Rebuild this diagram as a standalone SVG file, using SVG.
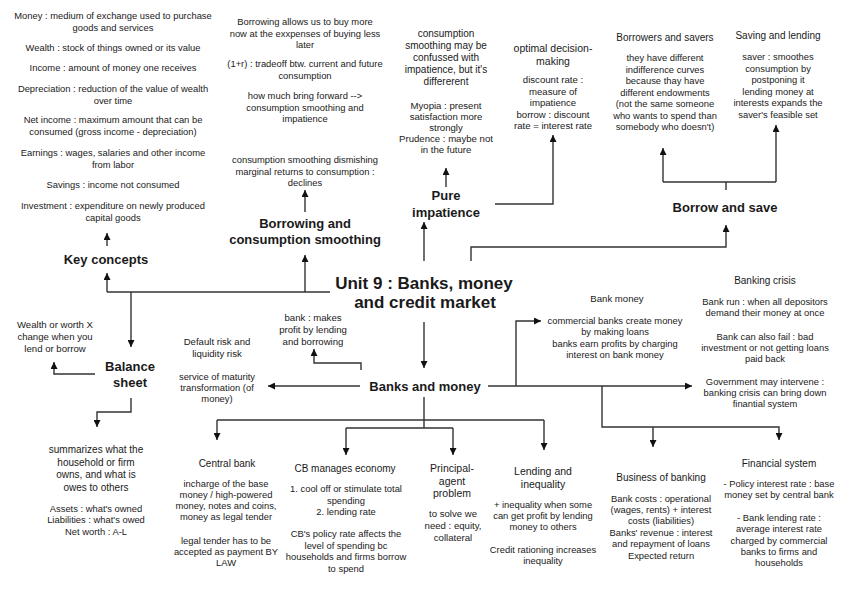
<svg xmlns="http://www.w3.org/2000/svg" width="848" height="602" viewBox="0 0 848 602">
<defs>
<style>
text{font-family:"Liberation Sans",Arial,sans-serif;fill:#1a1a1a;text-anchor:middle}
.s9{font-size:9.4px}
.s95{font-size:9.6px}
.s10{font-size:10px}
.s105{font-size:10.5px}
.h{font-size:13px;font-weight:bold}
.m{font-size:17px;font-weight:bold}
.c{fill:none;stroke:#333;stroke-width:1.4}
.a{marker-end:url(#ah)}
</style>
<marker id="ah" markerUnits="userSpaceOnUse" markerWidth="8" markerHeight="7" refX="7" refY="3.5" orient="auto">
<path d="M0,0 L7,3.5 L0,7 z" fill="#111"/>
</marker>
</defs>
<rect width="848" height="602" fill="#fff"/>

<g id="connectors">
<path class="c" d="M330 292 H107"/>
<path class="c a" d="M107 292 V273"/>
<path class="c a" d="M131 292 V347"/>
<path class="c a" d="M305 292 V255"/>
<path class="c a" d="M107 246 V233"/>
<path class="c a" d="M305 212 V190"/>
<path class="c a" d="M424 261 V222"/>
<path class="c a" d="M446 187 V168"/>
<path class="c a" d="M495 204 H553 V135"/>
<path class="c a" d="M471 261 V247 H726 V225"/>
<path class="c" d="M726 190 V182 M663 182 H776"/>
<path class="c a" d="M663 182 V148"/>
<path class="c a" d="M776 182 V125"/>
<path class="c a" d="M424 322 V368"/>
<path class="c a" d="M488 386 H692"/>
<path class="c a" d="M516 386 V321 H541"/>
<path class="c a" d="M602 386 V427 H779 V440"/>
<path class="c a" d="M653 427 V447"/>
<path class="c a" d="M360 386 H268"/>
<path class="c a" d="M361 370 V363 H314 V349"/>
<path class="c" d="M424 397 V428 M217 420 H544 M346 428 H453"/>
<path class="c a" d="M217 420 V440"/>
<path class="c a" d="M544 420 V450"/>
<path class="c a" d="M346 428 V455"/>
<path class="c a" d="M453 428 V455"/>
<path class="c a" d="M95 374 H54 V362"/>
<path class="c a" d="M131 398 V412 H97 V427"/>
</g>

<g id="unit9">
<text class="m" x="424" y="289">Unit 9 : Banks, money</text>
<text class="m" x="425" y="308">and credit market</text>
</g>

<g id="key-concepts">
<text class="h" x="106" y="264">Key concepts</text>
</g>
<g id="key-concepts-list" class="s9">
<text x="113" y="19">Money : medium of exchange used to purchase</text>
<text x="113" y="30.5">goods and services</text>
<text x="113" y="51">Wealth : stock of things owned or its value</text>
<text x="113" y="71">Income : amount of money one receives</text>
<text x="113" y="92">Depreciation : reduction of the value of wealth</text>
<text x="113" y="103.5">over time</text>
<text x="113" y="123">Net income : maximum amount that can be</text>
<text x="113" y="134.5">consumed (gross income - depreciation)</text>
<text x="113" y="156">Earnings : wages, salaries and other income</text>
<text x="113" y="167.5">from labor</text>
<text x="113" y="188">Savings : income not consumed</text>
<text x="113" y="209">Investment : expenditure on newly produced</text>
<text x="113" y="220.5">capital goods</text>
</g>

<g id="borrowing">
<text class="h" x="305" y="228">Borrowing and</text>
<text class="h" x="305" y="244">consumption smoothing</text>
</g>
<g id="borrowing-notes" class="s9">
<text x="305" y="25">Borrowing allows us to buy more</text>
<text x="305" y="36.5">now at the exxpenses of buying less</text>
<text x="305" y="48">later</text>
<text x="305" y="67">(1+r) : tradeoff btw. current and future</text>
<text x="305" y="78.5">consumption</text>
<text x="305" y="99">how much bring forward --&gt;</text>
<text x="305" y="110.5">consumption smoothing and</text>
<text x="305" y="122">impatience</text>
<text x="305" y="163">consumption smoothing dismishing</text>
<text x="305" y="174.5">marginal returns to consumption :</text>
<text x="305" y="186">declines</text>
</g>

<g id="pure-impatience">
<text class="h" x="446" y="200">Pure</text>
<text class="h" x="446" y="217">impatience</text>
</g>
<g id="pure-notes">
<text class="s10" x="446" y="37">consumption</text>
<text class="s10" x="446" y="49">smoothing may be</text>
<text class="s10" x="446" y="61">confussed with</text>
<text class="s10" x="446" y="73">impatience, but it's</text>
<text class="s10" x="446" y="85">differerent</text>
<text class="s95" x="446" y="109">Myopia : present</text>
<text class="s95" x="446" y="120">satisfaction more</text>
<text class="s95" x="446" y="131">strongly</text>
<text class="s95" x="446" y="142">Prudence : maybe not</text>
<text class="s95" x="446" y="153">in the future</text>
</g>

<g id="optimal">
<text class="s105" x="553" y="52">optimal decision-</text>
<text class="s105" x="553" y="65">making</text>
<text class="s95" x="553" y="83">discount rate :</text>
<text class="s95" x="553" y="94.5">measure of</text>
<text class="s95" x="553" y="106">impatience</text>
<text class="s95" x="553" y="117.5">borrow : discount</text>
<text class="s95" x="553" y="129">rate = interest rate</text>
</g>

<g id="borrow-and-save">
<text class="h" x="725" y="212">Borrow and save</text>
</g>

<g id="borrowers-savers">
<text class="s10" x="665" y="40.5">Borrowers and savers</text>
<text class="s9" x="665" y="61">they have different</text>
<text class="s9" x="665" y="72.5">indifference curves</text>
<text class="s9" x="665" y="84">because thay have</text>
<text class="s9" x="665" y="95.5">different endowments</text>
<text class="s9" x="665" y="107">(not the same someone</text>
<text class="s9" x="665" y="118.5">who wants to spend than</text>
<text class="s9" x="665" y="130">somebody who doesn't)</text>
</g>

<g id="saving-lending">
<text class="s10" x="778" y="38.5">Saving and lending</text>
<text class="s9" x="778" y="60">saver : smoothes</text>
<text class="s9" x="778" y="71.5">consumption by</text>
<text class="s9" x="778" y="83">postponing it</text>
<text class="s9" x="778" y="94.5">lending money at</text>
<text class="s9" x="778" y="106">interests expands the</text>
<text class="s9" x="778" y="117.5">saver's feasible set</text>
</g>

<g id="banking-crisis">
<text class="s10" x="765" y="283.5">Banking crisis</text>
<text class="s9" x="765" y="305">Bank run : when all depositors</text>
<text class="s9" x="765" y="316">demand their money at once</text>
<text class="s9" x="765" y="339.5">Bank can also fail : bad</text>
<text class="s9" x="765" y="350.5">investment or not getting loans</text>
<text class="s9" x="765" y="361.5">paid back</text>
<text class="s9" x="765" y="385">Government may intervene :</text>
<text class="s9" x="765" y="396">banking crisis can bring down</text>
<text class="s9" x="765" y="407">finantial system</text>
</g>

<g id="bank-money">
<text class="s95" x="617" y="302">Bank money</text>
<text class="s9" x="615" y="324">commercial banks create money</text>
<text class="s9" x="615" y="335">by making loans</text>
<text class="s9" x="615" y="346.5">banks earn profits by charging</text>
<text class="s9" x="615" y="357.5">interest on bank money</text>
</g>

<g id="banks-and-money">
<text class="h" x="425" y="391">Banks and money</text>
</g>

<g id="bank-profit">
<text class="s95" x="313" y="321">bank : makes</text>
<text class="s95" x="313" y="333">profit by lending</text>
<text class="s95" x="313" y="345">and borrowing</text>
</g>

<g id="default-risk">
<text class="s95" x="217" y="345">Default risk and</text>
<text class="s95" x="217" y="357">liquidity risk</text>
<text class="s9" x="217" y="380">service of maturity</text>
<text class="s9" x="217" y="391">transformation (of</text>
<text class="s9" x="217" y="402">money)</text>
</g>

<g id="balance-sheet">
<text class="h" x="130" y="371">Balance</text>
<text class="h" x="130" y="387">sheet</text>
</g>

<g id="wealth-change">
<text class="s95" x="55" y="327.5">Wealth or worth X</text>
<text class="s95" x="55" y="339.5">change when you</text>
<text class="s95" x="55" y="351.5">lend or borrow</text>
</g>

<g id="balance-notes">
<text class="s10" x="96" y="453">summarizes what the</text>
<text class="s10" x="96" y="465.5">household or firm</text>
<text class="s10" x="96" y="478">owns, and what is</text>
<text class="s10" x="96" y="490.5">owes to others</text>
<text class="s9" x="96" y="512">Assets : what's owned</text>
<text class="s9" x="96" y="523">Liabilities : what's owed</text>
<text class="s9" x="96" y="534.5">Net worth : A-L</text>
</g>

<g id="central-bank">
<text class="s10" x="227" y="466.5">Central bank</text>
<text class="s9" x="226" y="487">incharge of the base</text>
<text class="s9" x="226" y="498">money / high-powered</text>
<text class="s9" x="226" y="509">money, notes and coins,</text>
<text class="s9" x="226" y="520">money as legal tender</text>
<text class="s9" x="226" y="544">legal tender has to be</text>
<text class="s9" x="226" y="555">accepted as payment BY</text>
<text class="s9" x="226" y="566">LAW</text>
</g>

<g id="cb-manages">
<text class="s10" x="345" y="471.5">CB manages economy</text>
<text class="s9" x="346" y="492">1. cool off or stimulate total</text>
<text class="s9" x="346" y="504">spending</text>
<text class="s9" x="346" y="515">2. lending rate</text>
<text class="s9" x="346" y="537">CB's policy rate affects the</text>
<text class="s9" x="346" y="549">level of spending bc</text>
<text class="s9" x="346" y="560">households and firms borrow</text>
<text class="s9" x="346" y="571.5">to spend</text>
</g>

<g id="principal-agent">
<text class="s105" x="452" y="471.5">Principal-</text>
<text class="s105" x="452" y="484.5">agent</text>
<text class="s105" x="452" y="497">problem</text>
<text class="s95" x="453" y="517">to solve we</text>
<text class="s95" x="453" y="528.5">need : equity,</text>
<text class="s95" x="453" y="541">collateral</text>
</g>

<g id="lending-inequality">
<text class="s105" x="543" y="475">Lending and</text>
<text class="s105" x="543" y="488">inequality</text>
<text class="s9" x="543" y="508">+ inequality when some</text>
<text class="s9" x="543" y="519">can get profit by lending</text>
<text class="s9" x="543" y="530">money to others</text>
<text class="s9" x="543" y="553">Credit rationing increases</text>
<text class="s9" x="543" y="564">inequality</text>
</g>

<g id="business-banking">
<text class="s10" x="661" y="480.5">Business of banking</text>
<text class="s9" x="661" y="502">Bank costs : operational</text>
<text class="s9" x="661" y="513">(wages, rents) + interest</text>
<text class="s9" x="661" y="524">costs (liabilities)</text>
<text class="s9" x="661" y="535.5">Banks' revenue : interest</text>
<text class="s9" x="661" y="547">and repayment of loans</text>
<text class="s9" x="661" y="558.5">Expected return</text>
</g>

<g id="financial-system">
<text class="s10" x="779" y="466.5">Financial system</text>
<text class="s9" x="779" y="487">- Policy interest rate : base</text>
<text class="s9" x="779" y="498">money set by central bank</text>
<text class="s9" x="779" y="521">- Bank lending rate :</text>
<text class="s9" x="779" y="532">average interest rate</text>
<text class="s9" x="779" y="543.5">charged by commercial</text>
<text class="s9" x="779" y="555">banks to firms and</text>
<text class="s9" x="779" y="566">households</text>
</g>
</svg>
